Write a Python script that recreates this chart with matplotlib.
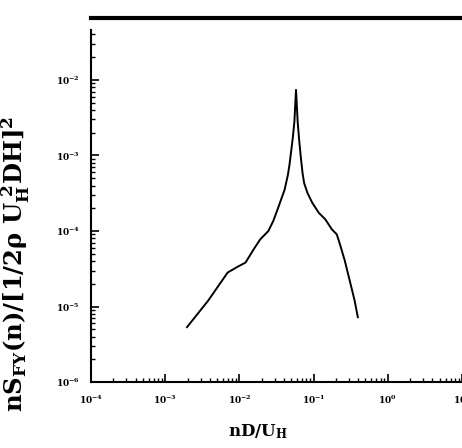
import matplotlib
matplotlib.use("Agg")
import matplotlib.pyplot as plt
import numpy as np
from matplotlib.ticker import LogLocator, NullFormatter

plt.rcParams["font.family"] = "DejaVu Serif"
plt.rcParams["font.weight"] = "bold"
plt.rcParams["axes.labelweight"] = "bold"
plt.rcParams["mathtext.fontset"] = "dejavuserif"
plt.rcParams["mathtext.default"] = "bf"

# spectrum (log10 values)
log_freq = [-2.706, -2.421, -2.158, -2.026, -1.917, -1.807, -1.719, -1.610, -1.544,
            -1.478, -1.390, -1.346, -1.325, -1.303, -1.281, -1.259, -1.237,
            -1.215, -1.193, -1.171, -1.149, -1.128, -1.083, -1.017, -0.930,
            -0.842, -0.754, -0.688, -0.645, -0.579, -0.513, -0.447, -0.404]
log_spec = [-5.272, -4.921, -4.549, -4.474, -4.417, -4.241, -4.110, -4.000, -3.868,
            -3.693, -3.451, -3.254, -3.122, -2.947, -2.772, -2.553, -2.132,
            -2.553, -2.816, -3.036, -3.233, -3.364, -3.496, -3.628, -3.759,
            -3.846, -3.978, -4.044, -4.175, -4.395, -4.658, -4.921, -5.141]

freq = 10 ** np.array(log_freq)
spec = 10 ** np.array(log_spec)

x_ticks = [1e-4, 1e-3, 1e-2, 1e-1, 1e0, 1e1]
y_ticks = [1e-6, 1e-5, 1e-4, 1e-3, 1e-2]

fig = plt.figure(figsize=(4.62, 4.48), dpi=100)
ax = fig.add_axes([0.197, 0.147, 0.803, 0.786])

ax.plot(freq, spec, color="black", linewidth=1.4)

ax.set_xscale("log")
ax.set_yscale("log")
ax.set_xlim(1e-4, 10 ** 0.97)
ax.set_ylim(1e-6, 10 ** -1.34)

ax.set_xticks(x_ticks)
ax.set_yticks(y_ticks)
ax.set_xticklabels([r"$10^{%d}$" % int(np.log10(v)) for v in x_ticks], fontsize=6.5)
ax.set_yticklabels([r"$10^{%d}$" % int(np.log10(v)) for v in y_ticks], fontsize=6.5)
ax.xaxis.set_minor_locator(LogLocator(base=10, subs=np.arange(2, 10), numticks=20))
ax.yaxis.set_minor_locator(LogLocator(base=10, subs=np.arange(2, 10), numticks=20))
ax.xaxis.set_minor_formatter(NullFormatter())
ax.yaxis.set_minor_formatter(NullFormatter())
ax.tick_params(which="major", direction="in", length=6, width=1.2, pad=8)
ax.tick_params(which="minor", direction="in", length=3, width=1.0)

ax.spines["top"].set_visible(False)
ax.spines["right"].set_visible(False)
ax.spines["left"].set_linewidth(1.5)
ax.spines["bottom"].set_linewidth(1.5)

ax.set_xlabel(r"nD/U$_\mathbf{H}$", fontsize=12)
ax.xaxis.set_label_coords(0.45, -0.115)
ax.set_ylabel(r"nS$_\mathbf{FY}$(n)/[1/2$\rho$ U$_\mathbf{H}^{\ 2}$DH]$^\mathbf{2}$", fontsize=17.5)
ax.yaxis.set_label_coords(-0.16, 0.335)

# heavy rule at the top of the panel
fig.add_artist(plt.Line2D([0.197, 1.0], [0.96, 0.96], color="black", linewidth=3,
                          transform=fig.transFigure))

fig.savefig("out.png", dpi=100)
